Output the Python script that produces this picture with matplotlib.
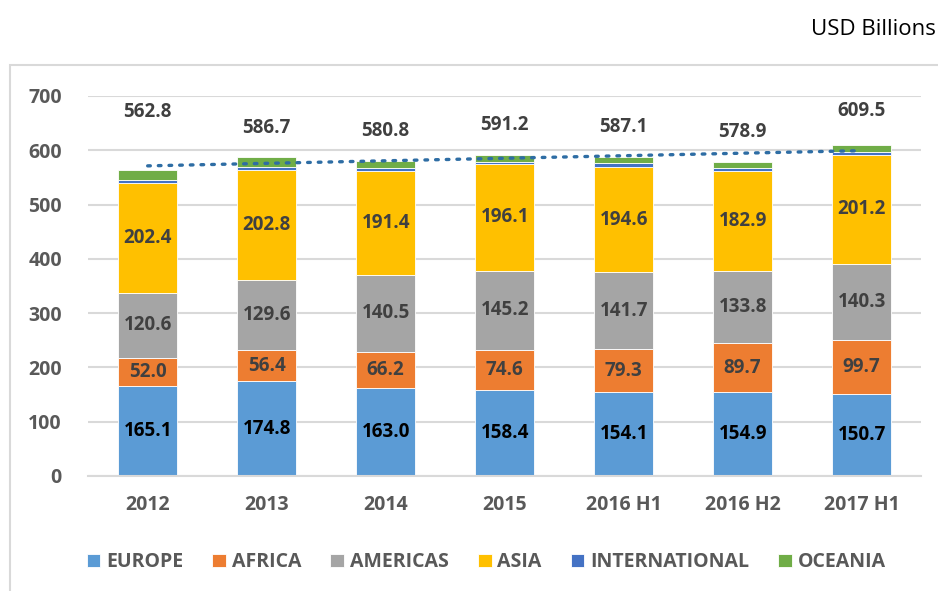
import numpy as np
import matplotlib
matplotlib.use("Agg")
import matplotlib.pyplot as plt
from matplotlib.patches import Rectangle

matplotlib.rcParams['font.family'] = ['Open Sans', 'DejaVu Sans']

periods = ["2012", "2013", "2014", "2015", "2016 H1", "2016 H2", "2017 H1"]
europe = [165.1, 174.8, 163.0, 158.4, 154.1, 154.9, 150.7]
africa = [52.0, 56.4, 66.2, 74.6, 79.3, 89.7, 99.7]
americas = [120.6, 129.6, 140.5, 145.2, 141.7, 133.8, 140.3]
asia = [202.4, 202.8, 191.4, 196.1, 194.6, 182.9, 201.2]
international = [6.0, 5.5, 5.6, 5.0, 6.0, 5.5, 5.5]
oceania = [16.7, 17.6, 14.1, 11.9, 11.4, 12.1, 12.1]
totals = [562.8, 586.7, 580.8, 591.2, 587.1, 578.9, 609.5]

names = ["EUROPE", "AFRICA", "AMERICAS", "ASIA", "INTERNATIONAL", "OCEANIA"]
colors = ["#5B9BD5", "#ED7D31", "#A5A5A5", "#FFC000", "#4472C4", "#70AD47"]
label_colors = ["black", "#404040", "#404040", "#404040", None, None]
# how far above the bar top each total sits
total_pad = [107, 54, 54, 55, 56, 54, 62]

series = [europe, africa, americas, asia, international, oceania]

fig = plt.figure(figsize=(9.38, 5.91), dpi=100)
ax = fig.add_axes([0.094, 0.1946, 0.888, 0.643])

# light frame around the chart area
fig.patches.append(Rectangle((0.011, -0.01), 1.2, 0.9, transform=fig.transFigure,
                             fill=False, edgecolor="#D9D9D9", linewidth=1.5))

x = np.arange(len(periods))
bottom = np.zeros(len(periods))
for vals, name, col, lc in zip(series, names, colors, label_colors):
    vals = np.array(vals)
    bars = ax.bar(x, vals, 0.5, bottom=bottom, color=col, label=name,
                  edgecolor="white", linewidth=0.6, zorder=2)
    if lc is not None:
        ax.bar_label(bars, labels=["%.1f" % v for v in vals], label_type="center",
                     color=lc, fontsize=13.5, fontweight="bold")
    bottom += vals

# linear trend of totals
coef = np.polyfit(x, totals, 1)
ax.plot(x, np.polyval(coef, x), linestyle=(0, (0.8, 2.4)), color="#2E6DA4",
        linewidth=2.4, zorder=3, dash_capstyle="round")

for xi, t, p in zip(x, totals, total_pad):
    ax.text(xi, t + p, "%.1f" % t, ha="center", va="center", fontsize=13.5,
            fontweight="bold", color="#404040")

ax.set_xlim(-0.5, len(periods) - 0.5)
ax.set_ylim(0, 700)
ax.set_yticks(range(0, 701, 100))
ax.set_xticks(x)
ax.set_xticklabels(periods)
ax.yaxis.grid(True, color="#D9D9D9", linewidth=1.5, zorder=0)
ax.set_axisbelow(True)
for s in ["top", "right", "left"]:
    ax.spines[s].set_visible(False)
ax.spines["bottom"].set_color("#D9D9D9")
ax.spines["bottom"].set_linewidth(1.5)
ax.tick_params(axis="both", length=0, labelsize=14, labelcolor="#595959")
ax.tick_params(axis="x", pad=14)
ax.tick_params(axis="y", pad=19)
for lab in ax.get_xticklabels() + ax.get_yticklabels():
    lab.set_fontweight("bold")

ax.legend(loc="upper center", bbox_to_anchor=(0.478, -0.155), ncol=6, frameon=False,
          prop={"size": 14, "weight": "bold"}, handlelength=0.7, handleheight=0.7,
          handletextpad=0.3, columnspacing=1.5, labelcolor="#595959")

fig.text(0.998, 0.95, "USD Billions", ha="right", va="center", fontsize=16,
         color="black")

fig.savefig("out.png", dpi=100)
